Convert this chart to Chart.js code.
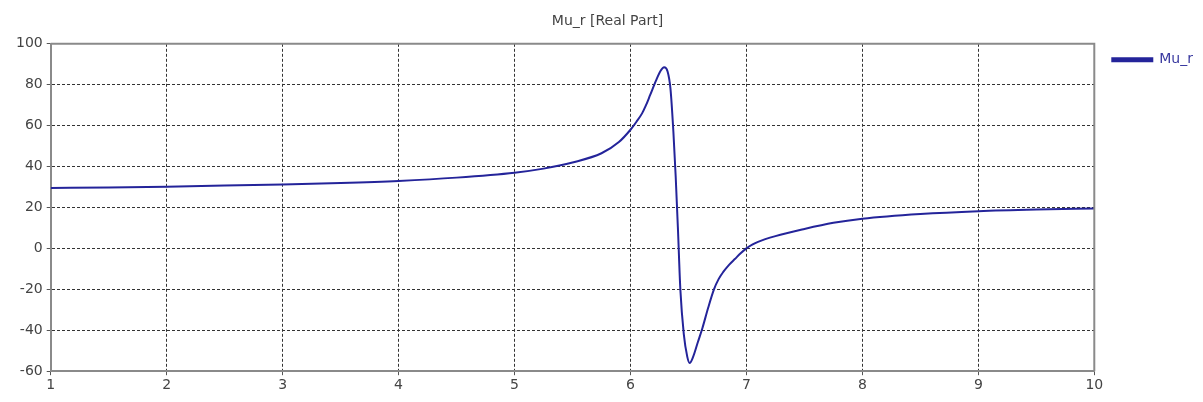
<!DOCTYPE html>
<html>
<head>
<meta charset="utf-8">
<script src="https://cdn.jsdelivr.net/npm/chart.js@4"></script>
<style>
  html, body { margin: 0; padding: 0; background: #fff; }
  #wrap { width: 1203px; height: 402px; }
</style>
</head>
<body>
<div id="wrap"><canvas id="chart"></canvas></div>
<script>
// Frequency points and real part of Mu_r
const freq = [1, 1.5, 2, 2.5, 3, 3.5, 4, 4.5, 5, 5.25, 5.5, 5.75, 5.9, 6.0, 6.05, 6.1, 6.13, 6.17, 6.22, 6.26, 6.29, 6.32, 6.345, 6.37, 6.39, 6.41, 6.43, 6.46, 6.49, 6.51, 6.54, 6.58, 6.62, 6.67, 6.72, 6.76, 6.8, 6.85, 6.9, 6.95, 7.0, 7.05, 7.1, 7.25, 7.5, 7.75, 8.0, 8.5, 9.0, 9.5, 10];
const muReal = [29.5, 29.8, 30.2, 30.7, 31.3, 32.0, 33.0, 34.6, 37.0, 39.0, 42.0, 46.5, 52, 58, 61.8, 66, 69.5, 75, 82, 86.8, 88.5, 86.5, 78, 57, 35, 8.5, -20, -42, -53, -56, -53, -46, -39, -29, -20, -15, -11.5, -8, -5.2, -2.4, 0, 1.8, 3.2, 6, 9.5, 12.5, 14.5, 16.8, 18.2, 19.0, 19.5];

const xTicks = [1, 2, 3, 4, 5, 6, 7, 8, 9, 10];
const yTicks = [-60, -40, -20, 0, 20, 40, 60, 80, 100];

const chartTitle = 'Mu_r [Real Part]';
const seriesName = 'Mu_r';

const lineColor = '#24249a';
const frameColor = '#8a8a8a';

// draw top and right edges of the plot frame
const frameEdges = {
    id: 'frameEdges',
    afterDraw(chart) {
        const { ctx, chartArea: a } = chart;
        ctx.save();
        ctx.strokeStyle = frameColor;
        ctx.lineWidth = 2;
        ctx.beginPath();
        ctx.moveTo(a.left, a.top);
        ctx.lineTo(a.right, a.top);
        ctx.lineTo(a.right, a.bottom);
        ctx.stroke();
        ctx.restore();
    }
};

Chart.defaults.font.family = '"DejaVu Sans", sans-serif';
Chart.defaults.font.size = 14;
Chart.defaults.color = '#444';

new Chart(document.getElementById('chart'), {
    type: 'line',
    data: {
        datasets: [{
            label: seriesName,
            data: freq.map((f, i) => ({ x: f, y: muReal[i] })),
            borderColor: lineColor,
            backgroundColor: lineColor,
            borderWidth: 2,
            pointRadius: 0,
            cubicInterpolationMode: 'monotone',
            fill: false
        }]
    },
    options: {
        responsive: true,
        maintainAspectRatio: false,
        animation: false,
        layout: { padding: { left: 12, right: 0, top: 0, bottom: 6 } },
        plugins: {
            title: {
                display: true,
                text: chartTitle,
                font: { size: 14, weight: 'normal' },
                color: '#444',
                padding: { top: 13, bottom: 14 }
            },
            legend: {
                position: 'right',
                align: 'start',
                title: { display: true, text: ' ', padding: { top: 0, bottom: 18 } },
                labels: {
                    boxWidth: 40,
                    boxHeight: 3,
                    padding: 18,
                    color: '#3a3aa0',
                    font: { size: 14 }
                }
            },
            tooltip: { enabled: false }
        },
        scales: {
            x: {
                type: 'linear',
                min: 1,
                max: 10,
                afterBuildTicks: axis => { axis.ticks = xTicks.map(v => ({ value: v })); },
                grid: { color: '#333', lineWidth: 1, tickLength: 4, tickColor: '#555' },
                border: { color: frameColor, width: 2, dash: [3, 2] },
                ticks: { padding: 2, color: '#444' }
            },
            y: {
                min: -60,
                max: 100,
                afterBuildTicks: axis => { axis.ticks = yTicks.map(v => ({ value: v })); },
                grid: { color: '#333', lineWidth: 1, tickLength: 4, tickColor: '#555' },
                border: { color: frameColor, width: 2, dash: [3, 2] },
                ticks: { padding: 4, color: '#444' }
            }
        }
    },
    plugins: [frameEdges]
});
</script>
</body>
</html>
